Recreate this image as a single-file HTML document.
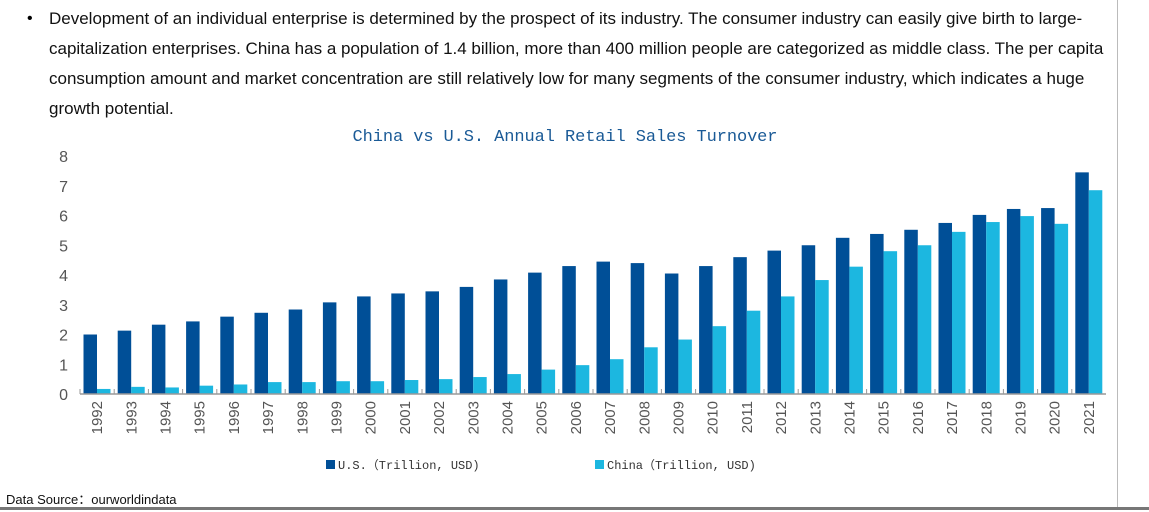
<!DOCTYPE html>
<html><head><meta charset="utf-8"><style>
body{margin:0;width:1149px;height:512px;background:#fff;overflow:hidden;position:relative;font-family:"Liberation Sans","Noto Sans CJK SC",sans-serif}
#txt{position:absolute;left:49px;top:4px;width:1090px;font-size:17px;line-height:30px;color:#111;white-space:nowrap}
#bul{position:absolute;left:27px;top:4px;font-size:16px;line-height:30px}
#src{position:absolute;left:6px;top:489px;font-size:13px;color:#111}
#bl{position:absolute;left:0;top:507px;width:1149px;height:3px;background:#777}
#rl{position:absolute;left:1117px;top:0;width:1px;height:507px;background:#bbb}
</style></head><body>
<div id="bul">•</div>
<div id="txt">Development of an individual enterprise is determined by the prospect of its industry. The consumer industry can easily give birth to large-<br>capitalization enterprises. China has a population of 1.4 billion, more than 400 million people are categorized as middle class. The per capita<br>consumption amount and market concentration are still relatively low for many segments of the consumer industry, which indicates a huge<br>growth potential.</div>
<div id="rl"></div>
<svg id="chart" width="1149" height="512" style="position:absolute;left:0;top:0"></svg>
<div id="src">Data Source：ourworldindata</div>
<div id="bl"></div>
<script>
const years=[1992,1993,1994,1995,1996,1997,1998,1999,2000,2001,2002,2003,2004,2005,2006,2007,2008,2009,2010,2011,2012,2013,2014,2015,2016,2017,2018,2019,2020,2021];
const usValues=[2.0,2.13,2.33,2.44,2.6,2.73,2.84,3.08,3.28,3.38,3.45,3.6,3.85,4.08,4.3,4.45,4.4,4.05,4.3,4.6,4.82,5.0,5.25,5.38,5.52,5.75,6.02,6.22,6.25,7.45];
const chinaValues=[0.17,0.24,0.22,0.28,0.32,0.4,0.4,0.43,0.43,0.47,0.5,0.57,0.67,0.82,0.97,1.17,1.57,1.83,2.28,2.8,3.28,3.83,4.28,4.8,5.0,5.45,5.78,5.98,5.72,6.85];
const yTicks=[0,1,2,3,4,5,6,7,8];
const svg=document.getElementById('chart');
const NS='http://www.w3.org/2000/svg';
const x0=80,x1=1106,y0=394,yTop=156,yMax=8;
const step=(x1-x0)/years.length;
const yS=v=>y0-(v/yMax)*(y0-yTop);
const xS=i=>x0+i*step;
function mk(t,a){const e=document.createElementNS(NS,t);for(const k in a)e.setAttribute(k,a[k]);svg.appendChild(e);return e;}
let t=mk('text',{x:565,y:141,'text-anchor':'middle','font-family':'Liberation Mono, monospace','font-size':17,fill:'#1a5a96',textLength:425});
t.textContent='China vs U.S. Annual Retail Sales Turnover';


yTicks.forEach(v=>{const e=mk('text',{x:68,y:yS(v)+6,'text-anchor':'end','font-size':16,fill:'#555'});e.textContent=v;

});
years.forEach((yr,i)=>{
const bx=xS(i);
let r=mk('rect',{x:bx+3.5,y:yS(usValues[i]),width:13.5,height:y0-yS(usValues[i]),fill:'#004f97'});


r=mk('rect',{x:bx+17,y:yS(chinaValues[i]),width:13.5,height:y0-yS(chinaValues[i]),fill:'#1cb7e0'});


const tk=mk('line',{x1:bx,x2:bx,y1:y0-5,y2:y0,stroke:'#999'});


const cx=bx+step/2+5;
const l=mk('text',{x:cx,y:401,'text-anchor':'end','font-size':15,fill:'#555',transform:`rotate(-90 ${cx} 401)`});
l.textContent=yr;


});
const ax=mk('line',{x1:x0,x2:x1,y1:y0,y2:y0,stroke:'#999','stroke-width':1.5});


[[326,'#004f97','U.S.（Trillion, USD)','legend-us'],[595,'#1cb7e0','China（Trillion, USD)','legend-china']].forEach(([lx,c,s,n])=>{
const g=mk('rect',{x:lx,y:460,width:9,height:9,fill:c});


const tt=mk('text',{x:lx+12,y:469,'font-size':12,'font-family':'Liberation Mono, Noto Sans CJK SC, monospace',fill:'#333'});
tt.textContent=s;


});
</script>
</body></html>
